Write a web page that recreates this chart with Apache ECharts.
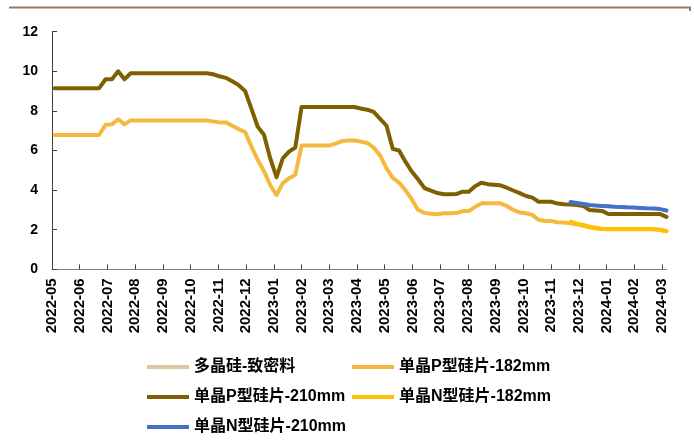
<!DOCTYPE html>
<html>
<head>
<meta charset="utf-8">
<script src="https://cdn.jsdelivr.net/npm/echarts@6/dist/echarts.min.js"></script>
<style>
  html, body { margin: 0; padding: 0; background: #fff; }
  #chart { width: 694px; height: 445px; }
</style>
</head>
<body>
<div id="chart"></div>
<script>
// Weekly price dates (Wednesdays)
const dates = [
  '2022-05-04','2022-05-11','2022-05-18','2022-05-25','2022-06-01','2022-06-08','2022-06-15','2022-06-22','2022-06-29',
  '2022-07-06','2022-07-13','2022-07-20','2022-07-27','2022-08-03','2022-08-10','2022-08-17','2022-08-24','2022-08-31',
  '2022-09-07','2022-09-14','2022-09-21','2022-09-28','2022-10-05','2022-10-12','2022-10-19','2022-10-26',
  '2022-11-02','2022-11-09','2022-11-16','2022-11-23','2022-11-30','2022-12-07','2022-12-14','2022-12-21','2022-12-28',
  '2023-01-04','2023-01-11','2023-01-18','2023-01-25','2023-02-01','2023-02-08','2023-02-15','2023-02-22',
  '2023-03-01','2023-03-08','2023-03-15','2023-03-22','2023-03-29','2023-04-05','2023-04-12','2023-04-19','2023-04-26',
  '2023-05-03','2023-05-10','2023-05-17','2023-05-24','2023-05-31','2023-06-07','2023-06-14','2023-06-21','2023-06-28',
  '2023-07-05','2023-07-12','2023-07-19','2023-07-26','2023-08-02','2023-08-09','2023-08-16','2023-08-23','2023-08-30',
  '2023-09-06','2023-09-13','2023-09-20','2023-09-27','2023-10-04','2023-10-11','2023-10-18','2023-10-25',
  '2023-11-01','2023-11-08','2023-11-15','2023-11-22','2023-11-29','2023-12-06','2023-12-13','2023-12-20','2023-12-27',
  '2024-01-03','2024-01-10','2024-01-17','2024-01-24','2024-01-31','2024-02-07','2024-02-14','2024-02-21','2024-02-28',
  '2024-03-06'
];

// Month tick labels
const monthLabels = [
  '2022-05','2022-06','2022-07','2022-08','2022-09','2022-10','2022-11','2022-12',
  '2023-01','2023-02','2023-03','2023-04','2023-05','2023-06','2023-07','2023-08',
  '2023-09','2023-10','2023-11','2023-12','2024-01','2024-02','2024-03'
];

const yTicks = [0, 2, 4, 6, 8, 10, 12];

// 多晶硅-致密料 (no prices in this window)
const polyDense = [];

// 单晶P型硅片-210mm
const p210 = [
  9.15, 9.15, 9.15, 9.15, 9.15, 9.15, 9.15, 9.15, 9.6,
  9.6, 10.0, 9.6, 9.9, 9.9, 9.9, 9.9, 9.9, 9.9,
  9.9, 9.9, 9.9, 9.9, 9.9, 9.9, 9.9, 9.85,
  9.75, 9.67, 9.5, 9.3, 9.0, 8.1, 7.2, 6.8, 5.6,
  4.65, 5.6, 5.94, 6.15, 8.2, 8.2, 8.2, 8.2,
  8.2, 8.2, 8.2, 8.2, 8.2, 8.12, 8.06, 7.95, 7.6,
  7.25, 6.08, 6.0, 5.45, 4.95, 4.55, 4.1, 3.97, 3.85,
  3.79, 3.79, 3.8, 3.92, 3.92, 4.2, 4.37, 4.3, 4.27,
  4.24, 4.12, 3.98, 3.85, 3.7, 3.62, 3.41, 3.41,
  3.41, 3.32, 3.28, 3.27, 3.25, 3.2, 2.99, 2.97, 2.95,
  2.79, 2.79, 2.79, 2.79, 2.79, 2.79, 2.79, 2.79, 2.79,
  2.65
];

// 单晶P型硅片-182mm
const p182 = [
  6.78, 6.78, 6.78, 6.78, 6.78, 6.78, 6.78, 6.78, 7.3,
  7.32, 7.58, 7.32, 7.52, 7.52, 7.52, 7.52, 7.52, 7.52,
  7.52, 7.52, 7.52, 7.52, 7.52, 7.52, 7.52, 7.47,
  7.42, 7.42, 7.25, 7.08, 6.93, 6.2, 5.52, 4.95, 4.25,
  3.75, 4.35, 4.6, 4.78, 6.25, 6.25, 6.25, 6.25,
  6.25, 6.35, 6.47, 6.5, 6.5, 6.45, 6.38, 6.15, 5.75,
  5.1, 4.62, 4.38, 4.0, 3.55, 3.0, 2.85, 2.8, 2.78,
  2.83, 2.83, 2.84, 2.94, 2.94, 3.15, 3.33, 3.33, 3.33,
  3.33, 3.2, 3.0, 2.87, 2.83, 2.75, 2.5, 2.44,
  2.44, 2.38, 2.36, 2.33, 2.27, 2.2, 2.12, 2.06, 2.03,
  2.02, 2.02, 2.02, 2.02, 2.02, 2.02, 2.02, 2.02, 2.0,
  1.93
];

// N-type wafers, quoted from 2023-11-22 onward
const n182 = [2.4, 2.3, 2.24, 2.15, 2.1, 2.05, 2.04, 2.04, 2.04, 2.04, 2.04, 2.04, 2.04, 2.04, 1.98, 1.92];
const n210 = [3.4, 3.35, 3.3, 3.25, 3.22, 3.2, 3.18, 3.16, 3.15, 3.13, 3.12, 3.1, 3.08, 3.07, 3.04, 2.97];

// Position of a date on the month axis (0 = 2022-05-01)
function monthPos(s) {
  const [y, m, d] = s.split('-').map(Number);
  const days = new Date(y, m, 0).getDate();
  return (y - 2022) * 12 + (m - 5) + (d - 1) / days;
}

function pairs(vals) {
  const ds = dates.slice(dates.length - vals.length);
  return vals.map((v, i) => [monthPos(ds[i]), v]);
}

const FONT = '"Liberation Sans", Arial, "Noto Sans CJK SC", sans-serif';
const NAMES = {
  poly: '多晶硅-致密料',
  p182: '单晶P型硅片-182mm',
  p210: '单晶P型硅片-210mm',
  n182: '单晶N型硅片-182mm',
  n210: '单晶N型硅片-210mm'
};
const COLORS = {
  poly: '#DCC9A1',
  p182: '#F5B940',
  p210: '#7F6000',
  n182: '#FFC000',
  n210: '#4472C4'
};

function lineSeries(key, vals) {
  return {
    name: NAMES[key],
    type: 'line',
    data: pairs(vals),
    showSymbol: false,
    symbol: 'none',
    smooth: false,
    color: COLORS[key],
    lineStyle: { width: 4, color: COLORS[key], cap: 'round', join: 'round' },
    emphasis: { disabled: true },
    animation: false
  };
}

const lastPos = monthPos(dates[dates.length - 1]);
const legendText = { fontSize: 16, fontWeight: 'bold', color: '#000', fontFamily: FONT };

const chart = echarts.init(document.getElementById('chart'), null, { renderer: 'canvas' });
chart.setOption({
  animation: false,
  backgroundColor: '#fff',
  grid: { left: 52, top: 31.7, width: 614.5, height: 237.6, containLabel: false },
  xAxis: {
    type: 'value',
    min: 0,
    max: lastPos,
    interval: 1,
    splitLine: { show: false },
    axisLine: { show: true, lineStyle: { color: '#7F7F7F', width: 1 } },
    axisTick: {
      show: true, inside: true, length: 5,
      customValues: monthLabels.map((_, i) => i),
      lineStyle: { color: '#404040', width: 1 }
    },
    axisLabel: {
      rotate: 90,
      margin: 9,
      customValues: monthLabels.map((_, i) => i),
      formatter: v => monthLabels[Math.round(v)] || '',
      fontSize: 15,
      fontWeight: 'bold',
      color: '#000',
      fontFamily: FONT
    }
  },
  yAxis: {
    type: 'value',
    min: yTicks[0],
    max: yTicks[yTicks.length - 1],
    interval: 2,
    splitLine: { show: false },
    axisLine: { show: true, lineStyle: { color: '#404040', width: 1 } },
    axisTick: { show: true, inside: true, length: 5, lineStyle: { color: '#404040' } },
    axisLabel: { margin: 14, fontSize: 14, fontWeight: 'bold', color: '#000', fontFamily: FONT }
  },
  legend: [
    {
      left: 142, top: 354, orient: 'vertical', icon: 'rect',
      itemWidth: 42, itemHeight: 4, itemGap: 14, itemTextGap: 5, itemStyle: { borderWidth: 0 },
      textStyle: legendText, selectedMode: false,
      data: [NAMES.poly, NAMES.p210, NAMES.n210]
    },
    {
      left: 347, top: 354, orient: 'vertical', icon: 'rect',
      itemWidth: 42, itemHeight: 4, itemGap: 14, itemTextGap: 5, itemStyle: { borderWidth: 0 },
      textStyle: legendText, selectedMode: false,
      data: [NAMES.p182, NAMES.n182]
    }
  ],
  graphic: [
    { type: 'rect', shape: { x: 9, y: 6.5, width: 682, height: 2 }, style: { fill: '#9C7A58' }, silent: true },
    { type: 'rect', shape: { x: 689, y: 7, width: 2, height: 4 }, style: { fill: '#9C7A58' }, silent: true }
  ],
  series: [
    lineSeries('poly', polyDense),
    lineSeries('p182', p182),
    lineSeries('p210', p210),
    lineSeries('n182', n182),
    lineSeries('n210', n210)
  ]
});
</script>
</body>
</html>
